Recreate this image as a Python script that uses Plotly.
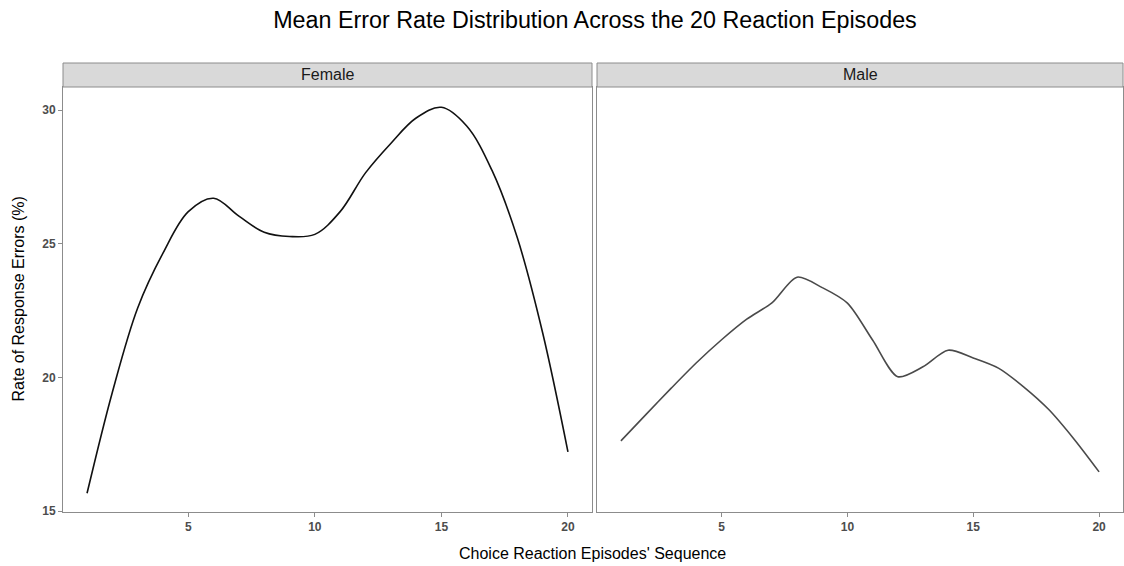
import plotly.graph_objects as go

episodes = list(range(1, 21))
female_rate = [15.67, 19.45, 22.6, 24.65, 26.2, 26.7, 26.03, 25.43, 25.27, 25.35,
               26.2, 27.65, 28.75, 29.7, 30.1, 29.4, 27.74, 25.22, 21.67, 17.22]
male_rate = [17.63, 18.62, 19.6, 20.55, 21.41, 22.18, 22.79, 23.75, 23.36, 22.78,
             21.4, 20.03, 20.4, 21.02, 20.73, 20.35, 19.65, 18.8, 17.7, 16.47]
panels = ["Female", "Male"]
x_ticks = [5, 10, 15, 20]
y_ticks = [15, 20, 25, 30]

FONT = "Liberation Sans, Arial, sans-serif"
W, H = 1124, 566
ML, MR, MT, MB = 63, 1, 87, 54
pw = W - ML - MR
ph = H - MT - MB
left_dom = [0, (592 - ML) / pw]
right_dom = [(597 - ML) / pw, 1]

fig = go.Figure()
fig.add_trace(go.Scatter(x=episodes, y=female_rate, mode="lines",
                         line=dict(color="#111111", width=1.6, shape="spline", smoothing=1.0),
                         xaxis="x", yaxis="y", showlegend=False))
fig.add_trace(go.Scatter(x=episodes, y=male_rate, mode="lines",
                         line=dict(color="#4a4a4a", width=1.6, shape="spline", smoothing=0.8),
                         xaxis="x2", yaxis="y2", showlegend=False))

yr = [14.97, 30.86]
xr = [0.05, 20.95]
axis_common = dict(showgrid=False, zeroline=False, showline=True, mirror=True,
                   linecolor="#8c8c8c", linewidth=1, ticks="outside", ticklen=4,
                   tickcolor="#8c8c8c", tickwidth=1,
                   tickfont=dict(family=FONT, size=12, color="#4d4d4d", weight="bold"))

fig.update_layout(
    width=W, height=H,
    margin=dict(l=ML, r=MR, t=MT, b=MB),
    paper_bgcolor="white", plot_bgcolor="white",
    title=dict(text="Mean Error Rate Distribution Across the 20 Reaction Episodes",
               x=595 / W, xanchor="center", y=1 - 20 / H, yanchor="middle",
               font=dict(family=FONT, size=23.3, color="black")),
    xaxis=dict(domain=left_dom, range=xr, tickvals=x_ticks, anchor="y", **axis_common),
    yaxis=dict(domain=[0, 1], range=yr, tickvals=y_ticks, anchor="x", **axis_common),
    xaxis2=dict(domain=right_dom, range=xr, tickvals=x_ticks, anchor="y2", **axis_common),
    yaxis2=dict(domain=[0, 1], range=yr, tickvals=y_ticks, anchor="x2",
                showticklabels=False, **{k: v for k, v in axis_common.items() if k not in ("ticks",)}, ticks=""),
)

strip_h = 24 / ph
shapes = []
annotations = []
for dom, label in zip([left_dom, right_dom], panels):
    shapes.append(dict(type="rect", xref="paper", yref="paper",
                       x0=dom[0], x1=dom[1], y0=1, y1=1 + strip_h,
                       fillcolor="#d9d9d9", line=dict(color="#8c8c8c", width=1)))
    annotations.append(dict(text=label, xref="paper", yref="paper",
                            x=(dom[0] + dom[1]) / 2, y=1 + strip_h / 2,
                            xanchor="center", yanchor="middle", showarrow=False,
                            font=dict(family=FONT, size=16, color="#1a1a1a")))

annotations.append(dict(text="Choice Reaction Episodes' Sequence", xref="paper", yref="paper",
                        x=(592 - ML) / pw, y=-(553 - (MT + ph)) / ph, xanchor="center",
                        yanchor="middle", showarrow=False,
                        font=dict(family=FONT, size=16, color="black")))
annotations.append(dict(text="Rate of Response Errors (%)", xref="paper", yref="paper",
                        x=-(ML - 18) / pw, y=0.5, xanchor="center", yanchor="middle",
                        textangle=-90, showarrow=False,
                        font=dict(family=FONT, size=16, color="black")))

fig.update_layout(shapes=shapes, annotations=annotations)
fig.write_html("out.html")
